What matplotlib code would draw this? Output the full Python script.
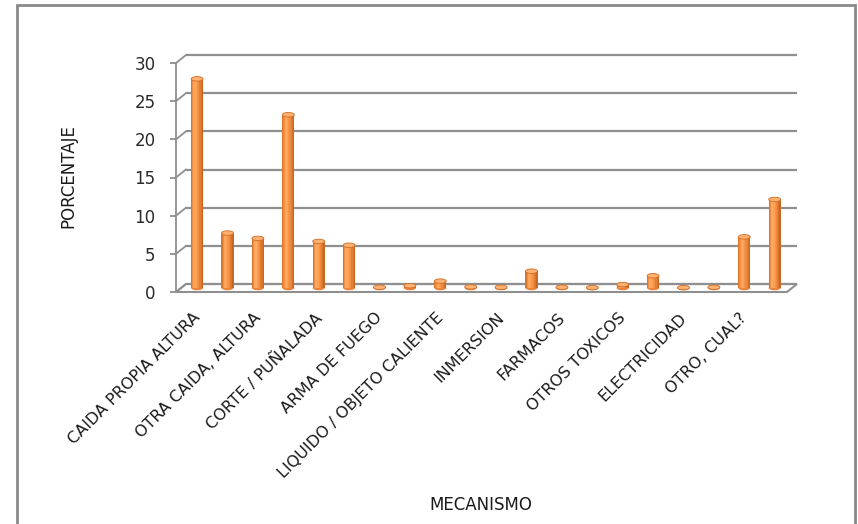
import matplotlib
matplotlib.use("Agg")
import matplotlib.pyplot as plt
from matplotlib.patches import Ellipse, Rectangle, Polygon
from matplotlib.transforms import ScaledTranslation

# ---- data ----
etiquetas = ["CAIDA PROPIA ALTURA", "OTRA CAIDA, ALTURA", "CORTE / PUÑALADA",
             "ARMA DE FUEGO", "LIQUIDO / OBJETO CALIENTE", "INMERSION",
             "FARMACOS", "OTROS TOXICOS", "ELECTRICIDAD", "OTRO, CUAL?"]
valores = [27.4, 7.2, 6.5, 22.7, 6.1, 5.6, 0.1, 0.3, 0.9, 0.15,
           0.1, 2.2, 0.1, 0.05, 0.45, 1.6, 0.05, 0.1, 6.7, 11.6]
yticks = [0, 5, 10, 15, 20, 25, 30]
ylabel = "PORCENTAJE"
xlabel = "MECANISMO"

W, H = 858, 524
fig = plt.figure(figsize=(W / 100, H / 100), dpi=100)
fig.patch.set_facecolor("white")

# outer chart border
fig.patches.append(Rectangle((17 / W, -0.02), (855 - 17) / W, 1.02 - 5 / H,
                             transform=fig.transFigure, fill=False,
                             edgecolor="#8a8a8a", linewidth=2.0))

left_px, right_px, bot_px, top_px = 176, 787, 292, 63
ax = fig.add_axes([left_px / W, (H - bot_px) / H,
                   (right_px - left_px) / W, (bot_px - top_px) / H])
x0, x1 = -0.53, 19.57
ax.set_xlim(x0, x1)
ax.set_ylim(0, 30)
for s in ax.spines.values():
    s.set_visible(False)

pxx = (right_px - left_px) / (x1 - x0)   # px per x unit
pxy = (bot_px - top_px) / 30.0           # px per y unit
ddx, ddy = 10 / pxx, 8 / pxy             # depth offset (back wall)
bdx, bdy = 5 / pxx, 4 / pxy              # bar depth offset

grid_c = "#8f8f8f"
# floor
floor = Polygon([(x0, 0), (x1, 0), (x1 + ddx, ddy), (x0 + ddx, ddy)],
                closed=True, facecolor="white", edgecolor=grid_c,
                linewidth=1.5, clip_on=False, zorder=1)
ax.add_patch(floor)
# back wall gridlines and left wall diagonals
for y in yticks:
    ax.plot([x0 + ddx, x1 + ddx], [y + ddy, y + ddy], color=grid_c,
            lw=1.6, clip_on=False, zorder=1, solid_capstyle="butt")
    ax.plot([x0, x0 + ddx], [y, y + ddy], color=grid_c, lw=1.3,
            clip_on=False, zorder=1)
ax.plot([x0, x0], [0, 30], color=grid_c, lw=1.3, clip_on=False, zorder=1)

# cylinder bars
strip_cols = ['#dc7429', '#f28d40', '#fda35a', '#ffaa62', '#fca058',
              '#f6964b', '#ee8b3f', '#e47f34', '#d87329', '#c96824']
bw = 12 / pxx
eh = 4.5 / pxy
n = len(strip_cols)
xs = list(range(len(valores)))
for i, v in zip(xs, valores):
    xc = i + bdx
    ax.add_patch(Ellipse((xc, bdy), bw, eh, facecolor="#e9843a",
                         edgecolor="none", zorder=3, clip_on=False))
    for k, c in enumerate(strip_cols):
        xk = xc - bw / 2 + (k + 0.5) * bw / n
        ax.bar(xk, v, width=bw / n * 1.05, bottom=bdy, color=c,
               linewidth=0, zorder=4, clip_on=False)
    ax.add_patch(Ellipse((xc, bdy + v), bw, eh, facecolor="#fdb172",
                         edgecolor="#d06c26", linewidth=0.6, zorder=5,
                         clip_on=False))

# axes ticks
ax.set_yticks(yticks)
ax.tick_params(axis="y", length=4.3, width=1.3, color=grid_c, pad=10.5,
               labelsize=12, labelcolor="#2a2a2a")
ax.set_xticks(xs[::2])
ax.set_xticklabels(etiquetas, rotation=45, ha="right",
                   rotation_mode="anchor", fontsize=11.5, color="#1a1a1a")
ax.tick_params(axis="x", length=0, pad=13)

fig.text(68 / W, 1 - 176 / H, ylabel, rotation=90, ha="center", va="center",
         fontsize=12, color="#1a1a1a")
fig.text(481 / W, 1 - 505 / H, xlabel, ha="center", va="center",
         fontsize=12, color="#1a1a1a")

fig.savefig("out.png", dpi=100)
